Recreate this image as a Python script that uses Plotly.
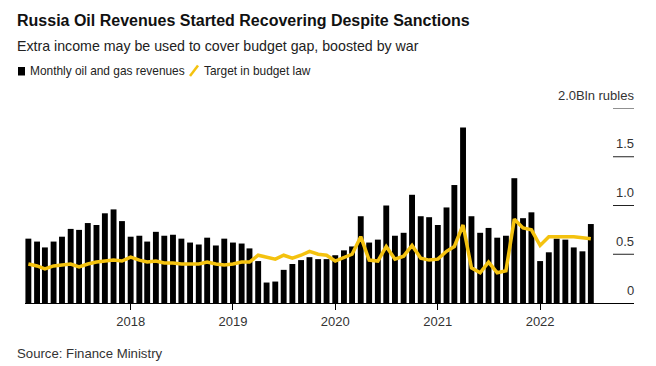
import pandas as pd
import plotly.graph_objects as go

# ---------------- data ----------------
months = pd.date_range("2017-01-01", "2022-07-01", freq="MS")
revenues = [
    0.66, 0.63, 0.57, 0.63, 0.68, 0.76, 0.75, 0.82, 0.80, 0.92, 0.96, 0.84,  # 2017
    0.68, 0.69, 0.63, 0.73, 0.69, 0.70, 0.66, 0.62, 0.60, 0.67, 0.59, 0.66,  # 2018
    0.62, 0.61, 0.56, 0.43, 0.21, 0.22, 0.34, 0.40, 0.44, 0.47, 0.45, 0.45,  # 2019
    0.49, 0.54, 0.58, 0.89, 0.62, 0.65, 1.00, 0.69, 0.72, 1.11, 0.89, 0.88,  # 2020
    0.80, 0.98, 1.21, 1.80, 0.89, 0.72, 0.77, 0.67, 0.69, 1.28, 0.87, 0.93,  # 2021
    0.43, 0.52, 0.66, 0.65, 0.57, 0.53, 0.81,                                # 2022
]
target = [
    0.40, 0.38, 0.35, 0.38, 0.39, 0.40, 0.37, 0.40, 0.42, 0.43, 0.44, 0.43,
    0.47, 0.44, 0.42, 0.43, 0.41, 0.41, 0.40, 0.40, 0.40, 0.42, 0.40, 0.39,
    0.40, 0.42, 0.42, 0.49, 0.47, 0.45, 0.49, 0.46, 0.49, 0.53, 0.50, 0.49,
    0.43, 0.47, 0.50, 0.68, 0.44, 0.43, 0.58, 0.45, 0.48, 0.59, 0.46, 0.44,
    0.45, 0.53, 0.58, 0.80, 0.36, 0.31, 0.42, 0.31, 0.33, 0.86, 0.77, 0.75,
    0.59, 0.68, 0.68, 0.68, 0.68, 0.67, 0.66,
]
year_ticks = ["2018-01-01", "2019-01-01", "2020-01-01", "2021-01-01", "2022-01-01"]
year_labels = ["2018", "2019", "2020", "2021", "2022"]
y_ticks = [0.5, 1.0, 1.5, 2.0]
y_tick_labels = ["0.5", "1.0", "1.5", "2.0Bln rubles"]
y_zero_label = "0"

# ---------------- layout helpers ----------------
# the page body has an 8px margin, so the figure is drawn 8px in from the window edge
OFF = 8
W, H = 656 - OFF, 366 - OFF
ML, MR, MT, MB = 25 - OFF, 22, 108 - OFF, 63
PW, PH = W - ML - MR, H - MT - MB


def px_x(X):
    return (X - OFF - ML) / PW


def px_y(Y):
    return (H - MB - (Y - OFF)) / PH


FONT = "Liberation Sans, Arial, sans-serif"
YELLOW = "#F4C20F"

fig = go.Figure()
fig.add_trace(go.Bar(
    x=months, y=revenues, name="Monthly oil and gas revenues",
    marker=dict(color="#000000", line=dict(width=0)),
    width=21 * 86400000, showlegend=False,
))
fig.add_trace(go.Scatter(
    x=months, y=target, name="Target in budget law", mode="lines",
    line=dict(color=YELLOW, width=3.5), showlegend=False,
))

shapes = []
for v in y_ticks:
    shapes.append(dict(type="line", xref="paper", yref="y", x0=px_x(613), x1=1.0,
                       y0=v, y1=v, line=dict(color="#222", width=1)))
# legend marks
shapes.append(dict(type="rect", xref="paper", yref="paper",
                   x0=px_x(18), x1=px_x(25), y0=px_y(75.5), y1=px_y(67),
                   fillcolor="#000", line=dict(width=0)))
shapes.append(dict(type="line", xref="paper", yref="paper",
                   x0=px_x(190), y0=px_y(76), x1=px_x(198), y1=px_y(65.5),
                   line=dict(color=YELLOW, width=2.5)))

annotations = []
for v, t in zip([0] + y_ticks, [y_zero_label] + y_tick_labels):
    annotations.append(dict(xref="paper", yref="y", x=1.0, y=v, text=t, showarrow=False,
                            xanchor="right", yanchor="middle", yshift=13, xshift=2,
                            font=dict(family=FONT, size=13, color="#333")))
annotations += [
    dict(xref="paper", yref="paper", x=px_x(15), y=px_y(20.5), xanchor="left", yanchor="middle",
         text="<b>Russia Oil Revenues Started Recovering Despite Sanctions</b>", showarrow=False,
         font=dict(family=FONT, size=16, color="#111")),
    dict(xref="paper", yref="paper", x=px_x(15), y=px_y(45.5), xanchor="left", yanchor="middle",
         text="Extra income may be used to cover budget gap, boosted by war", showarrow=False,
         font=dict(family=FONT, size=14.2, color="#222")),
    dict(xref="paper", yref="paper", x=px_x(27.5), y=px_y(71), xanchor="left", yanchor="middle",
         text="Monthly oil and gas revenues", showarrow=False,
         font=dict(family=FONT, size=11.9, color="#222")),
    dict(xref="paper", yref="paper", x=px_x(201.5), y=px_y(71), xanchor="left", yanchor="middle",
         text="Target in budget law", showarrow=False,
         font=dict(family=FONT, size=11.9, color="#222")),
    dict(xref="paper", yref="paper", x=px_x(15), y=px_y(353), xanchor="left", yanchor="middle",
         text="Source: Finance Ministry", showarrow=False,
         font=dict(family=FONT, size=13.2, color="#333")),
]

fig.update_layout(
    width=W, height=H,
    margin=dict(l=ML, r=MR, t=MT, b=MB),
    paper_bgcolor="white", plot_bgcolor="white",
    bargap=0.25,
    shapes=shapes, annotations=annotations,
    xaxis=dict(
        type="date", range=["2016-12-20", "2022-12-02"],
        tickvals=year_ticks, ticktext=year_labels,
        ticks="outside", ticklen=6, tickcolor="#000", tickwidth=1,
        showline=True, linecolor="#000", linewidth=1,
        showgrid=False, zeroline=False,
        tickfont=dict(family=FONT, size=13, color="#333"),
    ),
    yaxis=dict(range=[0, 2.0], showgrid=False, zeroline=False, showticklabels=False,
               showline=False, ticks=""),
)

fig.write_html("out.html")
